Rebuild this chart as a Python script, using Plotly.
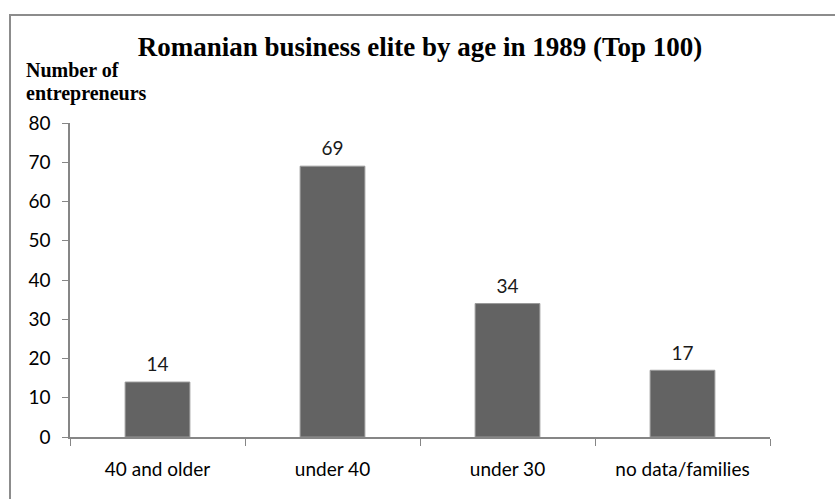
import plotly.graph_objects as go

categorias = ["40 and older", "under 40", "under 30", "no data/families"]
empresarios = [14, 69, 34, 17]
y_ticks = [0, 10, 20, 30, 40, 50, 60, 70, 80]

SANS = "Lato, 'Open Sans', sans-serif"
SERIF = "'Liberation Serif', 'Times New Roman', serif"

fig = go.Figure()
fig.add_trace(go.Bar(
    x=categorias,
    y=empresarios,
    marker=dict(color="#636363", line=dict(color="#9a9a9a", width=1)),
    showlegend=False,
    hoverinfo="x+y",
))
# rotulos de dados (marcador invisivel so para afastar o texto da barra)
fig.add_trace(go.Scatter(
    x=categorias,
    y=empresarios,
    mode="markers+text",
    text=[str(v) for v in empresarios],
    textposition="top center",
    textfont=dict(family=SANS, size=19, color="#1a1a1a"),
    marker=dict(size=8, opacity=0),
    cliponaxis=False,
    showlegend=False,
    hoverinfo="skip",
))

fig.update_layout(
    width=835, height=499,
    margin=dict(l=70, r=65, t=123, b=62),
    paper_bgcolor="white", plot_bgcolor="white",
    bargap=0.63,
    title=dict(
        text="<b>Romanian business elite by age in 1989 (Top 100)</b>",
        font=dict(family=SERIF, size=27, color="black"),
        x=0.5, xanchor="center", xref="paper",
        y=1 - 47 / 499, yanchor="middle", yref="container",
    ),
    xaxis=dict(
        showline=True, linecolor="#868686", linewidth=1.5,
        ticks="outside", tickson="boundaries", ticklen=7, tickcolor="#868686",
        tickfont=dict(family=SANS, size=19, color="black"),
        ticklabelstandoff=14,
        showgrid=False,
    ),
    yaxis=dict(
        range=[0, 80], tickvals=y_ticks,
        showline=True, linecolor="#868686", linewidth=1.5,
        ticks="outside", ticklen=6, tickcolor="#868686",
        tickfont=dict(family=SANS, size=19, color="black"),
        ticklabelstandoff=8,
        showgrid=False, zeroline=False,
    ),
)

# titulo do eixo y em duas linhas
for txt, ypx in [("Number of", 70), ("entrepreneurs", 93)]:
    fig.add_annotation(
        text=f"<b>{txt}</b>", xref="paper", yref="paper",
        x=(24 - 70) / 700, y=(437 - ypx) / 314,
        xanchor="left", yanchor="middle", showarrow=False,
        font=dict(family=SERIF, size=20, color="black"),
    )

# moldura do grafico
fig.add_shape(
    type="rect", xref="paper", yref="paper",
    x0=(10 - 70) / 700, x1=(840 - 70) / 700,
    y0=(437 - 520) / 314, y1=(437 - 15) / 314,
    line=dict(color="#8c8c8c", width=2), layer="below",
)

fig.write_html("out.html", config={"displayModeBar": False},
               post_script="document.body.style.margin='0';")
